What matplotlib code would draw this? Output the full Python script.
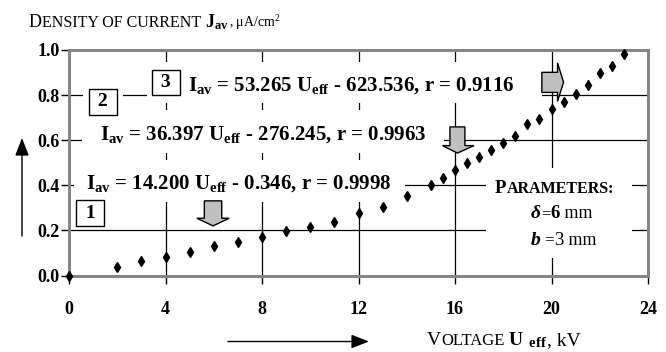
import matplotlib
matplotlib.use('Agg')
import matplotlib.pyplot as plt
from matplotlib.patches import Polygon, Rectangle, FancyArrowPatch
from matplotlib.transforms import IdentityTransform

plt.rcParams['font.family'] = ['Liberation Serif', 'DejaVu Serif']
plt.rcParams['mathtext.fontset'] = 'custom'
plt.rcParams['mathtext.rm'] = 'Liberation Serif'
plt.rcParams['mathtext.bf'] = 'Liberation Serif:bold'
plt.rcParams['mathtext.it'] = 'Liberation Serif:italic'

# measured current density vs voltage
voltage = [0, 2, 3, 4, 5, 6, 7, 8, 9, 10, 11, 12, 13, 14, 15, 15.5, 16, 16.5,
           17, 17.5, 18, 18.5, 19, 19.5, 20, 20.5, 21, 21.5, 22, 22.5, 23]
density = [0.0, 0.039, 0.064, 0.080, 0.105, 0.130, 0.148, 0.170, 0.198, 0.216,
           0.239, 0.276, 0.304, 0.353, 0.401, 0.432, 0.469, 0.501, 0.524, 0.558,
           0.588, 0.617, 0.670, 0.696, 0.739, 0.768, 0.807, 0.847, 0.899, 0.931,
           0.984]
xticks = [0, 4, 8, 12, 16, 20, 24]
yticks = [0.0, 0.2, 0.4, 0.6, 0.8, 1.0]
equations = [
    r'I$_{\mathbf{av}}$ = 14.200 U$_{\mathbf{eff}}$ - 0.346, r = 0.9998',
    r'I$_{\mathbf{av}}$ = 36.397 U$_{\mathbf{eff}}$ - 276.245, r = 0.9963',
    r'I$_{\mathbf{av}}$ = 53.265 U$_{\mathbf{eff}}$ - 623.536, r = 0.9116',
]

W, H = 666, 352
fig = plt.figure(figsize=(W / 100, H / 100), dpi=100)
ax = fig.add_axes([69 / W, 1 - 275.5 / H, 579 / W, 225.5 / H])
ax.set_xlim(0, 24)
ax.set_ylim(0, 1.0)
ax.set_xticks(xticks)
ax.set_yticks(yticks)
ax.set_yticklabels(['%.1f' % v for v in yticks])
ax.tick_params(axis='both', direction='out', length=6, width=1, colors='k',
               labelsize=13)
ax.tick_params(axis='x', pad=12)
ax.tick_params(axis='y', pad=0.5)
for lab in ax.get_xticklabels() + ax.get_yticklabels():
    lab.set_fontweight('bold')
for s in ax.spines.values():
    s.set_color('#868686')
    s.set_linewidth(2.2)
ax.grid(True, color='k', lw=0.9)
ax.set_axisbelow(True)

# white strips behind the labels
for x0, y0, x1, y1 in [(3.24, 0.767, 19.6, 0.949), (0.54, 0.544, 15.53, 0.736),
                       (0.21, 0.327, 13.91, 0.513), (17.28, 0.078, 23.34, 0.478),
                       (0.58, 0.673, 2.23, 0.86)]:
    ax.add_patch(Rectangle((x0, y0), x1 - x0, y1 - y0, fc='white', ec='none',
                           zorder=1.5))

ax.text(0.71, 0.385, equations[0], fontsize=15, fontweight='bold', zorder=3)
ax.text(1.29, 0.602, equations[1], fontsize=15, fontweight='bold', zorder=3)
ax.text(4.94, 0.821, equations[2], fontsize=15, fontweight='bold', zorder=3)

box = dict(boxstyle='square,pad=0.22', fc='white', ec='k', lw=1)
ax.text(0.89, 0.276, ' 1 ', fontsize=14, fontweight='bold', ha='center',
        va='center', bbox=box, zorder=3)
ax.text(1.42, 0.77, ' 2 ', fontsize=14, fontweight='bold', ha='center',
        va='center', bbox=box, zorder=3)
ax.text(4.03, 0.855, ' 3 ', fontsize=14, fontweight='bold', ha='center',
        va='center', bbox=box, zorder=3)

# block arrows
grey = '#c0c0c0'
ax.add_patch(Polygon([(5.61, 0.331), (6.33, 0.331), (6.33, 0.254), (6.64, 0.254),
                      (5.97, 0.22), (5.30, 0.254), (5.61, 0.254)],
                     fc=grey, ec='k', lw=1, zorder=4))
ax.add_patch(Polygon([(15.79, 0.659), (16.41, 0.659), (16.41, 0.576), (16.79, 0.576),
                      (16.1, 0.543), (15.48, 0.576), (15.79, 0.576)],
                     fc=grey, ec='k', lw=1, zorder=4))
ax.add_patch(Polygon([(19.6, 0.901), (20.25, 0.901), (20.25, 0.943), (20.5, 0.857),
                      (20.25, 0.772), (20.25, 0.812), (19.6, 0.812)],
                     fc=grey, ec='k', lw=1, zorder=4))

ax.plot(voltage, density, 'kd', ms=5.5, zorder=5, clip_on=False)

renderer = fig.canvas.get_renderer()


def write(parts, x, y):
    # pieces of text on one baseline, x and y in pixels from the top left
    for s, size, kw in parts:
        t = fig.text(x, H - y, s, fontsize=size, transform=IdentityTransform(),
                     ha='left', va='baseline', **kw)
        x += t.get_window_extent(renderer).width


bold = {'fontweight': 'bold'}
bi = {'fontweight': 'bold', 'fontstyle': 'italic'}
write([('D', 13, {}), ('ENSITY OF CURRENT', 11.5, {}),
       (r' $\mathbf{J_{av}}$', 13, {}), (r', μA/cm$^2$', 10, {})], 29, 27)
write([('V', 14, {}), ('OLTAGE', 12, {}), (r' $\mathbf{U}$', 14, {}),
       (r'$_{\mathbf{\ eff}}$', 15, {}), (', kV', 14, {})], 427, 345)
write([('P', 13.5, bold), ('ARAMETERS:', 11.5, bold)], 495, 193)
write([('δ', 14, bi), ('=', 12, {}), ('6', 13.5, bold), (' mm', 13, {})], 531, 218)
write([('b', 14, bi), (' =', 12, {}), ('3', 13.5, {}), (' mm', 13, {})], 531, 245)

# axis direction arrows
arrow = dict(arrowstyle='-|>,head_length=0.9,head_width=0.35', color='k',
             lw=1, shrinkA=0, shrinkB=0, mutation_scale=12)
fig.patches.append(FancyArrowPatch((22, H - 236), (22, H - 138),
                                   transform=IdentityTransform(), **arrow))
fig.patches.append(FancyArrowPatch((228, H - 341.5), (369, H - 341.5),
                                   transform=IdentityTransform(), **arrow))

fig.savefig('out.png', dpi=100)
